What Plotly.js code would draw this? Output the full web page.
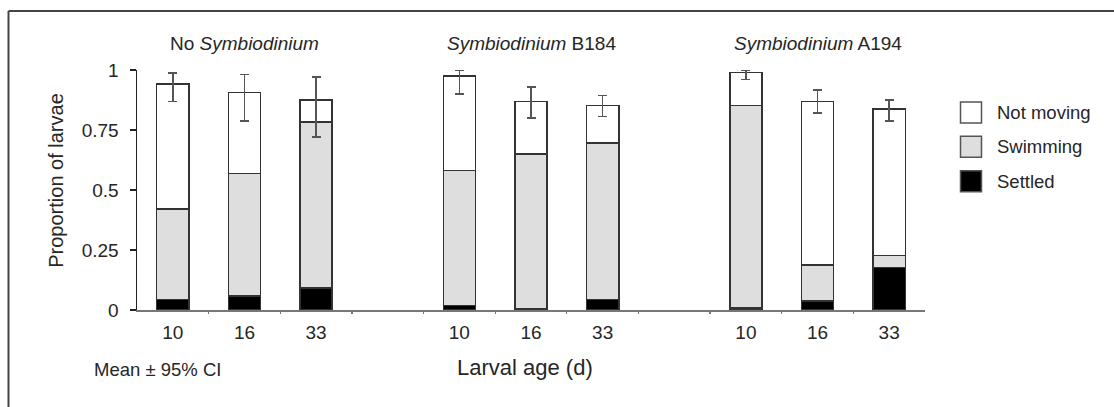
<!DOCTYPE html>
<html>
<head>
<meta charset="utf-8">
<script src="https://cdn.plot.ly/plotly-3.0.1.min.js"></script>
<style>html,body{margin:0;padding:0;background:#fff;}#chart{width:1114px;height:407px;}</style>
</head>
<body>
<div id="chart"></div>
<script>
// ---- data ----
var groupTitles = ["No <i>Symbiodinium</i>", "<i>Symbiodinium</i> B184", "<i>Symbiodinium</i> A194"];
var ages = ["10", "16", "33"];
var seriesNames = ["Not moving", "Swimming", "Settled"];
// one value per bar: group1 (10,16,33), group2 (10,16,33), group3 (10,16,33)
var settled   = [0.044, 0.058, 0.091, 0.019, 0.004, 0.044, 0.009, 0.037, 0.178];
var swimming  = [0.377, 0.510, 0.693, 0.562, 0.645, 0.651, 0.844, 0.151, 0.050];
var notMoving = [0.520, 0.339, 0.091, 0.393, 0.219, 0.158, 0.136, 0.680, 0.609];
var ciUpper   = [0.988, 0.982, 0.970, 1.000, 0.928, 0.893, 1.000, 0.916, 0.875];
var ciLower   = [0.868, 0.788, 0.721, 0.900, 0.799, 0.807, 0.961, 0.820, 0.788];
var yTickVals = [0, 0.25, 0.5, 0.75, 1];
var yTickText = ["0", "0.25", "0.5", "0.75", "1"];
var yTitle = "Proportion of larvae";
var xTitle = "Larval age (d)";
var noteText = "Mean \u00b1 95% CI";

// ---- derived positions ----
var xs = [], xLabels = [];
for (var g = 0; g < groupTitles.length; g++) {
  for (var i = 0; i < ages.length; i++) { xs.push(g * 4 + i); xLabels.push(ages[i]); }
}
var boundaries = [];
for (var b = 0.5; b < 10; b += 1) boundaries.push(b);
var totals = xs.map(function (_, k) { return settled[k] + swimming[k] + notMoving[k]; });
var errPlus = totals.map(function (t, k) { return Math.max(0, ciUpper[k] - t); });
var errMinus = totals.map(function (t, k) { return Math.max(0, t - ciLower[k]); });

var FONT = "Liberation Sans, Arial, sans-serif";
var TXT = "#262626";
var OUT = "#333333";
var fills = ["#ffffff", "#dedede", "#000000"];
var W = 1114, H = 407, L = 137, R = 925, T = 70, B = 310.5;
function px(x) { return (x - L) / (R - L); }
function py(y) { return (B - y) / (B - T); }

var common = { type: "bar", x: xs, width: 0.45, cliponaxis: false, showlegend: false, hoverinfo: "y" };
var traces = [
  Object.assign({}, common, { name: seriesNames[2], y: settled, marker: { color: fills[2], line: { color: OUT, width: 1.5 } } }),
  Object.assign({}, common, { name: seriesNames[1], y: swimming, marker: { color: fills[1], line: { color: OUT, width: 1.5 } } }),
  Object.assign({}, common, { name: seriesNames[0], y: notMoving, marker: { color: fills[0], line: { color: OUT, width: 1.5 } },
    error_y: { type: "data", symmetric: false, array: errPlus, arrayminus: errMinus, color: "#555555", thickness: 1.6, width: 4.5 } })
];

var annotations = [];
groupTitles.forEach(function (t, g) {
  annotations.push({ text: t, xref: "x", x: g * 4 + 1, yref: "paper", y: py(43.5), showarrow: false,
    xanchor: "center", yanchor: "middle", font: { family: FONT, size: 19, color: TXT } });
});
annotations.push({ text: yTitle, textangle: -90, xref: "paper", x: px(56), yref: "paper", y: py(181), showarrow: false,
  xanchor: "center", yanchor: "middle", font: { family: FONT, size: 20, color: TXT } });
annotations.push({ text: xTitle, xref: "paper", x: px(524.5), yref: "paper", y: py(368), showarrow: false,
  xanchor: "center", yanchor: "middle", font: { family: FONT, size: 22, color: TXT } });
annotations.push({ text: noteText, xref: "paper", x: px(92), yref: "paper", y: py(370), showarrow: false,
  xanchor: "left", yanchor: "middle", font: { family: FONT, size: 18.5, color: TXT } });

var shapes = [
  { type: "line", xref: "paper", yref: "paper", x0: px(8.5), x1: px(1116), y0: py(11), y1: py(11), line: { color: "#444", width: 2 } },
  { type: "line", xref: "paper", yref: "paper", x0: px(8.5), x1: px(8.5), y0: py(11), y1: py(410), line: { color: "#444", width: 2 } }
];
// legend boxes (drawn to match the reference's large swatches)
var legY = [112.5, 147, 181.5];
[0, 1, 2].forEach(function (s) {
  shapes.push({ type: "rect", xref: "paper", yref: "paper", x0: px(960.5), x1: px(981.5), y0: py(legY[s] - 10.5), y1: py(legY[s] + 10.5),
    fillcolor: fills[s], line: { color: "#555", width: 1.5 } });
  annotations.push({ text: seriesNames[s], xref: "paper", x: px(995), yref: "paper", y: py(legY[s]), showarrow: false,
    xanchor: "left", yanchor: "middle", font: { family: FONT, size: 18.5, color: TXT } });
});

var layout = {
  width: W, height: H,
  margin: { l: L, r: W - R, t: T, b: H - B, pad: 0 },
  paper_bgcolor: "#fff", plot_bgcolor: "rgba(0,0,0,0)",
  barmode: "stack",
  font: { family: FONT, size: 19, color: TXT },
  showlegend: false,
  xaxis: { range: [-0.5, 10.5], tickmode: "array", tickvals: xs, ticktext: xLabels, ticks: "", showline: true,
    linecolor: "#777", linewidth: 1.5, showgrid: false, zeroline: false, fixedrange: true,
    tickfont: { family: FONT, size: 19, color: TXT }, ticklabelstandoff: 5 },
  xaxis2: { overlaying: "x", matches: "x", range: [-0.5, 10.5], tickmode: "array", tickvals: boundaries, ticktext: boundaries.map(function () { return ""; }),
    ticks: "outside", ticklen: 3, tickcolor: "#777", tickwidth: 1.2, showline: false, showgrid: false, zeroline: false, side: "bottom", anchor: "y" },
  yaxis: { range: [0, 1], tickmode: "array", tickvals: yTickVals, ticktext: yTickText, ticks: "outside", ticklen: 6,
    tickcolor: "#222", tickwidth: 1.5, showline: true, linecolor: "#222", linewidth: 1.5, showgrid: false, zeroline: false,
    fixedrange: true, tickfont: { family: FONT, size: 19, color: TXT }, ticklabelstandoff: 7 },
  annotations: annotations,
  shapes: shapes
};
traces.push({ type: "scatter", x: [], y: [], xaxis: "x2", yaxis: "y", showlegend: false, hoverinfo: "skip" });

Plotly.newPlot("chart", traces, layout, { displayModeBar: false, staticPlot: true });
</script>
</body>
</html>
